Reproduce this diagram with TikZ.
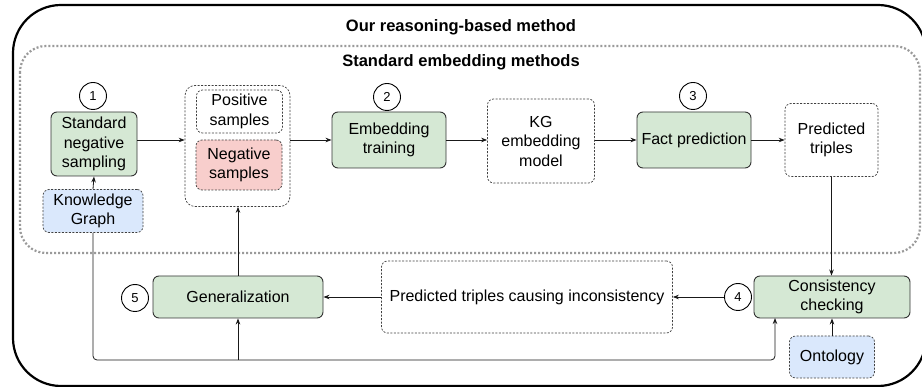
\documentclass[tikz,border=0pt]{standalone}
\usepackage{fontspec}
\setmainfont{Liberation Sans}
\usetikzlibrary{arrows.meta}
\definecolor{gfill}{HTML}{D5E8D4}
\definecolor{rfill}{HTML}{F8CECC}
\definecolor{bfill}{HTML}{DAE8FC}
\definecolor{dotgray}{HTML}{9A9A9A}
\definecolor{edgec}{HTML}{333333}
\begin{document}
\begin{tikzpicture}[x=1pt,y=-1pt,
  box/.style={draw=edgec, rounded corners=6pt, line width=0.9pt, align=center, inner sep=0pt, font=\fontsize{16}{19.5}\selectfont},
  gbox/.style={box, fill=gfill},
  dbox/.style={box, dash pattern=on 2pt off 1.5pt, line width=0.7pt, draw=black!75},
  rbox/.style={dbox, fill=rfill},
  bbox/.style={dbox, fill=bfill},
  num/.style={draw=black, circle, line width=0.9pt, minimum size=27pt, inner sep=0pt, font=\fontsize{13}{15}\selectfont, fill=white},
  ttl/.style={font=\fontsize{16.5}{19}\selectfont\bfseries},
  arr/.style={draw=black!90, line width=0.8pt, -{Stealth[length=6pt,width=4.5pt]}}]
\useasboundingbox (0,0) rectangle (922,387);
\fill[white] (0,0) rectangle (922,387);
% outer frame
\draw[line width=2.2pt, rounded corners=48pt] (13,5) rectangle (926,386);
\node[ttl] (t1) at (461,27.5) {Our reasoning-based method};
% dotted frame
\draw[dotgray, line width=2.2pt, dash pattern=on 2pt off 2pt, rounded corners=26pt] (20,46) rectangle (920,253);
\node[ttl] (t2) at (461,62.5) {Standard embedding methods};
% nodes
\node[num] (c1) at (93,96) {1};
\node[gbox, minimum width=86pt, minimum height=64pt] (sns) at (94,144) {Standard\\negative\\sampling};
\node[bbox, minimum width=100pt, minimum height=43pt] (kg) at (93,211) {Knowledge\\Graph};
\node[dbox, minimum width=105pt, minimum height=121pt, rounded corners=10pt] (grp) at (237.5,146) {};
\node[dbox, minimum width=86pt, minimum height=43pt] (pos) at (239.5,111.5) {Positive\\samples};
\node[rbox, minimum width=86pt, minimum height=50pt] (neg) at (239,165) {Negative\\samples};
\node[num] (c2) at (387,97) {2};
\node[gbox, minimum width=114pt, minimum height=56pt] (emb) at (389,140) {Embedding\\training};
\node[dbox, minimum width=107pt, minimum height=84pt] (kgm) at (541,141) {KG\\embedding\\model};
\node[num] (c3) at (693,96) {3};
\node[gbox, minimum width=114pt, minimum height=56pt] (fact) at (694,140) {Fact prediction};
\node[dbox, minimum width=93pt, minimum height=73pt] (pred) at (831.5,140) {Predicted\\triples};
\node[gbox, minimum width=156pt, minimum height=42pt] (cc) at (832,297) {Consistency\\checking};
\node[num] (c4) at (738,297) {4};
\node[dbox, minimum width=291pt, minimum height=72pt] (pinc) at (527,297) {Predicted triples causing inconsistency};
\node[gbox, minimum width=170pt, minimum height=42pt] (gen) at (238,297) {Generalization};
\node[num] (c5) at (135,298) {5};
\node[bbox, minimum width=85pt, minimum height=42pt] (ont) at (832,357) {Ontology};
% connectors
\draw[arr] (sns.east |- emb.west) -- (grp.west |- emb.west);
\draw[arr] (grp.east |- emb.west) -- (emb.west);
\draw[arr] (emb.east) -- (kgm.west |- emb.east);
\draw[arr] (kgm.east |- fact.west) -- (fact.west);
\draw[arr] (fact.east) -- (pred.west |- fact.east);
\draw[arr] (pred.south) -- (pred.south |- cc.north);
\draw[arr] (c4.west) -- (pinc.east);
\draw[arr] (pinc.west) -- (gen.east);
\draw[arr] (gen.north) -- (gen.north |- grp.south);
\draw[arr] (kg.north) -- (sns.south);
\draw[arr] (ont.north) -- (ont.north |- cc.south);
\coordinate (bot) at (93,360);
\coordinate (ccb) at (775,318);
\draw[arr, rounded corners=4pt] (kg.south) -- (bot) -| (ccb);
\draw[arr] (gen.south |- bot) -- (gen.south);
\end{tikzpicture}
\end{document}
